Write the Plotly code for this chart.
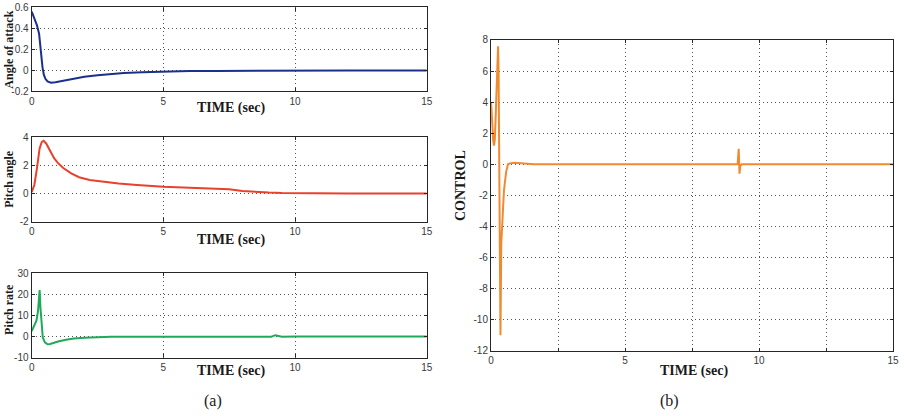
import plotly.graph_objects as go

# ---------------- data ----------------
t_alpha = [0, 0.1, 0.2, 0.28, 0.31, 0.34, 0.37, 0.41, 0.46, 0.52, 0.6, 0.73, 0.9, 1.2, 1.6, 2.0,
           2.5, 3.0, 3.5, 4.2, 5.0, 6.0, 7.0, 8.0, 9.0, 10, 12, 15]
alpha = [0.56, 0.5, 0.43, 0.35, 0.28, 0.18, 0.1, 0.03, -0.04, -0.08, -0.105, -0.117, -0.113, -0.097,
         -0.077, -0.06, -0.045, -0.032, -0.024, -0.016, -0.01, -0.006, -0.004, -0.002, -0.001, 0, 0, 0]

t_theta = [0, 0.1, 0.2, 0.3, 0.38, 0.45, 0.55, 0.7, 0.85, 1.0, 1.2, 1.5, 1.8, 2.2, 2.7, 3.3,
           4.0, 5.0, 6.0, 7.0, 7.5, 8.0, 8.5, 9.0, 9.5, 10, 12, 15]
theta = [0.1, 0.6, 1.8, 3.2, 3.65, 3.74, 3.55, 3.0, 2.5, 2.15, 1.8, 1.42, 1.15, 0.95, 0.82, 0.7,
         0.6, 0.47, 0.4, 0.35, 0.3, 0.18, 0.1, 0.06, 0.03, 0.02, 0, 0]

t_q = [0, 0.1, 0.18, 0.24, 0.28, 0.3, 0.33, 0.37, 0.42, 0.5, 0.6, 0.7, 0.85, 1.0, 1.3, 1.6, 2.0,
       2.5, 3.0, 4.0, 5, 6, 7, 7.8, 8.5, 9.1, 9.25, 9.35, 9.5, 10, 12, 15]
q = [2.5, 5, 7.5, 12, 19, 22, 14, 5, -0.5, -2.8, -3.7, -3.6, -3.0, -2.4, -1.6, -1.0, -0.6,
     -0.35, -0.2, -0.1, -0.1, -0.1, -0.15, -0.3, -0.2, -0.1, 0.6, 0.2, -0.1, -0.05, 0, 0]

t_u = [0, 0.04, 0.08, 0.11, 0.14, 0.18, 0.22, 0.26, 0.28, 0.3, 0.32, 0.35, 0.38, 0.43, 0.48,
       0.56, 0.63, 0.7, 0.87, 1.0, 1.3, 1.6, 2, 5, 9.2, 9.24, 9.27, 9.3, 9.35, 10, 15]
u = [4.0, 2.5, 1.5, 1.2, 1.6, 3.5, 6.5, 7.6, 6.0, 0, -8, -11, -5.1, -3.0, -1.7,
     -0.5, 0, 0.06, 0.1, 0.08, 0.02, 0, 0, 0, 0, 1.0, -0.6, -0.1, 0, 0, 0]

x_ticks = [0, 5, 10, 15]
x_ticktext = ["0", "5", "10", "15"]
alpha_ticks = [-0.2, 0, 0.2, 0.4, 0.6]
alpha_ticktext = ["-0.2", "0", "0.2", "0.4", "0.6"]
theta_ticks = [-2, 0, 2, 4]
theta_ticktext = ["-2", "0", "2", "4"]
q_ticks = [-10, 0, 10, 20, 30]
q_ticktext = ["-10", "0", "10", "20", "30"]
u_ticks = [-12, -10, -8, -6, -4, -2, 0, 2, 4, 6, 8]
u_ticktext = ["-12", "-10", "-8", "-6", "-4", "-2", "0", "2", "4", "6", "8"]

W, H = 904, 416

fig = go.Figure()
fig.add_trace(go.Scatter(x=t_alpha, y=alpha, mode="lines", line=dict(color="#1c2f8c", width=2),
                         xaxis="x", yaxis="y", showlegend=False))
fig.add_trace(go.Scatter(x=t_theta, y=theta, mode="lines", line=dict(color="#e8412c", width=2),
                         xaxis="x2", yaxis="y2", showlegend=False))
fig.add_trace(go.Scatter(x=t_q, y=q, mode="lines", line=dict(color="#1faa5a", width=2),
                         xaxis="x3", yaxis="y3", showlegend=False))
fig.add_trace(go.Scatter(x=t_u, y=u, mode="lines", line=dict(color="#f08a30", width=2),
                         xaxis="x4", yaxis="y4", showlegend=False))

GRID_DASH = "1px,3px"
tickfont = dict(family="Liberation Sans, Arial, sans-serif", size=10, color="#3a3a3a")
common = dict(showline=True, mirror="ticks", linecolor="#262626", linewidth=1.3,
              ticks="inside", ticklen=3, tickcolor="#262626", tickfont=tickfont,
              showgrid=True, gridcolor="#555555", gridwidth=1, griddash=GRID_DASH,
              zeroline=False, fixedrange=True)


def px_x(a, b):
    return [a / W, b / W]


def px_y(top, bottom):
    return [1 - bottom / H, 1 - top / H]


left_dom = px_x(29, 428)
right_dom = px_x(493, 899)

fig.update_layout(
    width=W, height=H, margin=dict(l=0, r=0, t=0, b=0),
    paper_bgcolor="white", plot_bgcolor="white",
    xaxis=dict(domain=left_dom, anchor="y", range=[0, 15], tickvals=x_ticks, ticktext=x_ticktext, **common),
    yaxis=dict(domain=px_y(1.5, 88), anchor="x", range=[-0.2, 0.6], tickvals=alpha_ticks,
               ticktext=alpha_ticktext, **common),
    xaxis2=dict(domain=left_dom, anchor="y2", range=[0, 15], tickvals=x_ticks, ticktext=x_ticktext, **common),
    yaxis2=dict(domain=px_y(135, 222), anchor="x2", range=[-2, 4], tickvals=theta_ticks,
                ticktext=theta_ticktext, **common),
    xaxis3=dict(domain=left_dom, anchor="y3", range=[0, 15], tickvals=x_ticks, ticktext=x_ticktext, **common),
    yaxis3=dict(domain=px_y(275, 362), anchor="x3", range=[-10, 30], tickvals=q_ticks,
                ticktext=q_ticktext, **common),
    xaxis4=dict(domain=right_dom, anchor="y4", range=[0, 15], tickvals=x_ticks, ticktext=x_ticktext,
                minor=dict(dtick=2.5, tick0=0, showgrid=True, gridcolor="#555555", griddash=GRID_DASH,
                           gridwidth=1, ticks="inside", ticklen=3, tickcolor="#262626"),
                **common),
    yaxis4=dict(domain=px_y(35, 355), anchor="x4", range=[-12, 8], tickvals=u_ticks,
                ticktext=u_ticktext, **common),
)

serif_b = dict(family="Liberation Serif, Times New Roman, serif", size=14, color="#1a1a1a")
serif_side = dict(family="Liberation Serif, Times New Roman, serif", size=12, color="#1a1a1a")
serif = dict(family="Liberation Serif, Times New Roman, serif", size=16, color="#1a1a1a")


def ann(text, xp, yp, font, angle=0):
    fig.add_annotation(text=text, xref="paper", yref="paper", x=xp / W, y=1 - yp / H,
                       xanchor="center", yanchor="middle", showarrow=False, font=font,
                       textangle=angle)


for yy in (105, 241, 376):
    ann("<b>TIME (sec)</b>", 230, yy, serif_b)
ann("<b>TIME (sec)</b>", 698, 376, serif_b)
ann("(a)", 212, 407, serif)
ann("(b)", 673, 407, serif)
ann("<b>Angle of attack</b>", 6, 45, serif_side, -90)
ann("<b>Pitch angle</b>", 6, 178, serif_side, -90)
ann("<b>Pitch rate</b>", 6, 312, serif_side, -90)
ann("<b>CONTROL</b>", 462, 185, serif_b, -90)

fig.write_html("out.html")
